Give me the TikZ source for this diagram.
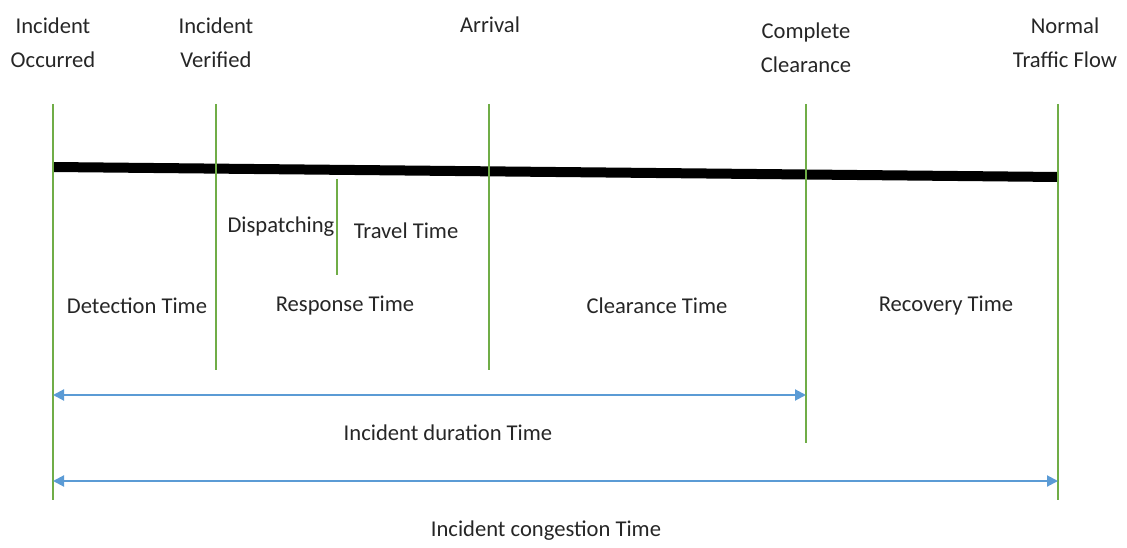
\documentclass[tikz,border=0pt]{standalone}
\usepackage{fontspec}
\setmainfont{Carlito}
\usetikzlibrary{arrows.meta}
\definecolor{mark}{HTML}{70AD47}
\definecolor{span}{HTML}{5B9BD5}
\definecolor{ink}{HTML}{262626}
\begin{document}
\begin{tikzpicture}[x=1pt,y=-1pt,
  marker/.style={draw=mark,line width=2.8pt},
  spanline/.style={draw=span,line width=2pt,{Triangle[length=11pt,width=11pt]}-{Triangle[length=11pt,width=11pt]}},
  lbl/.style={text=ink,font=\fontsize{22.6}{34}\selectfont,inner sep=0pt,align=center}]
\useasboundingbox (0,0) rectangle (1127,548);
% event markers
\coordinate (occT) at (53,104);   \coordinate (occB) at (53,500);
\coordinate (verT) at (216,104);  \coordinate (verB) at (216,370);
\coordinate (arrT) at (489,104);  \coordinate (arrB) at (489,370);
\coordinate (clrT) at (806,104);  \coordinate (clrB) at (806,443);
\coordinate (norT) at (1058,104); \coordinate (norB) at (1058,500);
\coordinate (dspT) at (337,179);  \coordinate (dspB) at (337,275);
% time axis
\coordinate (axL) at (53,167); \coordinate (axR) at (1058,177);
\draw[line width=10pt] (axL) -- (axR);
\foreach \m in {occ,ver,arr,clr,nor,dsp} \draw[marker] (\m T) -- (\m B);
% span arrows
\coordinate (durL) at (53,395);  \coordinate (durR) at (806,395);
\coordinate (conL) at (53,481);  \coordinate (conR) at (1058,481);
\draw[spanline] (durL) -- (durR);
\draw[spanline] (conL) -- (conR);
% event labels
\node[lbl] (lOcc) at (53,43) {Incident\\Occurred};
\node[lbl] (lVer) at (216,43) {Incident\\Verified};
\node[lbl] (lArr) at (490,25) {Arrival};
\node[lbl] (lClr) at (806,48) {Complete\\Clearance};
\node[lbl] (lNor) at (1065,43) {Normal\\Traffic Flow};
% phase labels
\node[lbl] (lDsp) at (281,227) {Dispatching};
\node[lbl] (lTrv) at (406,231) {Travel Time};
\node[lbl] (lDet) at (137,306) {Detection Time};
\node[lbl] (lRsp) at (345,306) {Response Time};
\node[lbl] (lCT) at (657,306) {Clearance Time};
\node[lbl] (lRec) at (946,306) {Recovery Time};
\node[lbl] (lDur) at (448,433) {Incident duration Time};
\node[lbl] (lCon) at (546,531) {Incident congestion Time};
\end{tikzpicture}
\end{document}
